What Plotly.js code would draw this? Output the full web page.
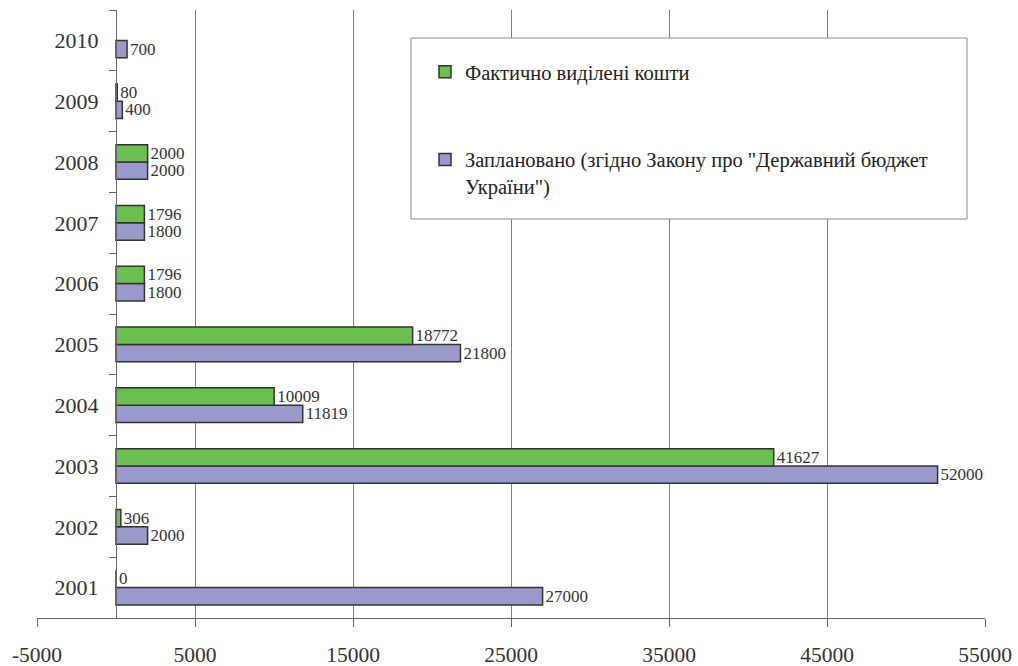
<!DOCTYPE html>
<html>
<head>
<meta charset="utf-8">
<script src="https://cdn.plot.ly/plotly-3.0.1.min.js"></script>
<style>html,body{margin:0;padding:0;background:#fff;}#chart{width:1018px;height:666px;}</style>
</head>
<body>
<div id="chart"></div>
<script>
const years = ["2001","2002","2003","2004","2005","2006","2007","2008","2009","2010"];
const actual = [0, 306, 41627, 10009, 18772, 1796, 1796, 2000, 80, null];
const planned = [27000, 2000, 52000, 11819, 21800, 1800, 1800, 2000, 400, 700];
const xTickVals = [-5000, 5000, 15000, 25000, 35000, 45000, 55000];
const xTickText = ["-5000", "5000", "15000", "25000", "35000", "45000", "55000"];
const actualName = "Фактично виділені кошти";
const plannedName = "Заплановано (згідно Закону про \"Державний бюджет<br>України\")";

const serif = "Liberation Serif";
const labelOf = v => (v === null ? "" : String(v));

const L = 37, R = 33, T = 10, B = 48;
const W = 1018, H = 666;
const pw = W - L - R, ph = H - T - B;
const px = x => (x - L) / pw;
const py = y => (H - B - y) / ph;

const traces = [
  {
    type: "bar", orientation: "h", name: plannedName,
    y: years, x: planned, text: planned.map(labelOf),
    textposition: "outside", cliponaxis: false, constraintext: "none",
    textfont: {family: serif, size: 17, color: "#333"},
    marker: {color: "#9999cc", line: {color: "#333", width: 1.5}},
    legendgroup: "p", legendrank: 2, hoverinfo: "x+y"
  },
  {
    type: "bar", orientation: "h", name: actualName,
    y: years, x: actual, text: actual.map(labelOf),
    textposition: "outside", cliponaxis: false, constraintext: "none",
    textfont: {family: serif, size: 17, color: "#333"},
    marker: {color: "#6bbf4e", line: {color: "#333", width: 1.5}},
    legendgroup: "a", legendrank: 1, hoverinfo: "x+y"
  }
];

const layout = {
  width: W, height: H,
  margin: {l: L, r: R, t: T, b: B},
  paper_bgcolor: "#fff", plot_bgcolor: "#fff",
  font: {family: serif, color: "#333"},
  barmode: "group", bargap: 0.43, bargroupgap: 0,
  showlegend: true,
  legend: {
    x: px(425), y: py(52), xanchor: "left", yanchor: "top",
    bgcolor: "rgba(0,0,0,0)", borderwidth: 0,
    traceorder: "grouped", tracegroupgap: 58, valign: "top",
    font: {family: serif, size: 20.5, color: "#222"}
  },
  xaxis: {
    range: [-5000, 55000], tickmode: "array", tickvals: xTickVals, ticktext: xTickText,
    showgrid: true, gridcolor: "#808080", gridwidth: 1,
    zeroline: false, showline: true, linecolor: "#666", linewidth: 1,
    ticks: "outside", ticklen: 8, tickcolor: "#666",
    tickfont: {family: serif, size: 21.5, color: "#333"},
    ticklabelstandoff: 9, fixedrange: true
  },
  yaxis: {
    type: "category", anchor: "free", position: px(116),
    showgrid: false, zeroline: false, showline: true, linecolor: "#666", linewidth: 1,
    ticks: "outside", ticklen: 7, tickcolor: "#666", tickson: "boundaries",
    tickfont: {family: serif, size: 22, color: "#333"},
    ticklabelstandoff: 13, fixedrange: true
  },
  shapes: [{
    type: "rect", xref: "paper", yref: "paper", layer: "above",
    x0: px(411), x1: px(967), y0: py(219), y1: py(38),
    line: {color: "#888", width: 1}, fillcolor: "#fff"
  }]
};

Plotly.newPlot("chart", traces, layout, {displayModeBar: false, staticPlot: true});
</script>
</body>
</html>
